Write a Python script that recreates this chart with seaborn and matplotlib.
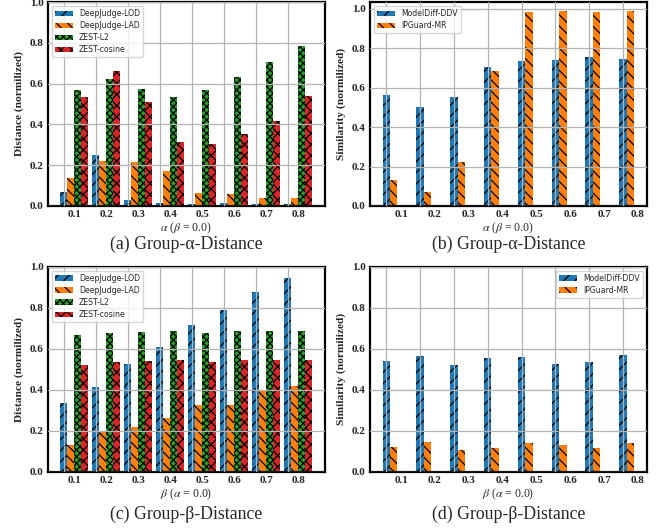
import numpy as np
import pandas as pd
import matplotlib
matplotlib.use("Agg")
import matplotlib.pyplot as plt
from matplotlib.ticker import FormatStrFormatter
import seaborn as sns

# ---------------- data ----------------
params = ["0.1", "0.2", "0.3", "0.4", "0.5", "0.6", "0.7", "0.8"]

dist_names = ["DeepJudge-LOD", "DeepJudge-LAD", "ZEST-L2", "ZEST-cosine"]
sim_names = ["ModelDiff-DDV", "IPGuard-MR"]

# (a) Group-alpha distance
a_lod = [0.068, 0.252, 0.028, 0.013, 0.008, 0.013, 0.008, 0.008]
a_lad = [0.135, 0.223, 0.218, 0.174, 0.063, 0.057, 0.037, 0.037]
a_l2 = [0.569, 0.623, 0.574, 0.535, 0.569, 0.633, 0.706, 0.784]
a_cos = [0.535, 0.662, 0.511, 0.315, 0.306, 0.354, 0.418, 0.540]

# (b) Group-alpha similarity
b_ddv = [0.564, 0.503, 0.554, 0.705, 0.735, 0.740, 0.755, 0.745]
b_mr = [0.131, 0.070, 0.221, 0.685, 0.982, 0.987, 0.982, 0.987]

# (c) Group-beta distance
c_lod = [0.337, 0.413, 0.525, 0.609, 0.715, 0.789, 0.877, 0.945]
c_lad = [0.131, 0.196, 0.219, 0.263, 0.326, 0.326, 0.394, 0.418]
c_l2 = [0.666, 0.676, 0.681, 0.686, 0.676, 0.686, 0.686, 0.686]
c_cos = [0.520, 0.535, 0.540, 0.545, 0.535, 0.545, 0.545, 0.545]

# (d) Group-beta similarity
d_ddv = [0.540, 0.564, 0.520, 0.554, 0.559, 0.525, 0.535, 0.569]
d_mr = [0.122, 0.146, 0.107, 0.117, 0.141, 0.131, 0.117, 0.141]

dist_colors = ["#1f77b4", "#ff7f0e", "#2ca02c", "#d62728"]
dist_hatches = ["///", "\\\\\\", "xxxxx", "xxx"]
sim_colors = ["#1f77b4", "#ff7f0e"]
sim_hatches = ["///", "\\\\\\"]

# ---------------- style ----------------
sns.set_style("whitegrid", {"axes.edgecolor": "black", "grid.color": "0.7"})
plt.rcParams["font.family"] = ["Liberation Serif", "DejaVu Serif"]
plt.rcParams["mathtext.fontset"] = "stix"
plt.rcParams["hatch.linewidth"] = 0.9

W = 0.22
FW, FH = 667, 529

fig = plt.figure(figsize=(FW / 100, FH / 100), dpi=100)


def rect(left, right, top, bottom):
    return [left / FW, 1 - bottom / FH, (right - left) / FW, (bottom - top) / FH]


panels = [
    dict(rect=rect(47.7, 325, 2, 206), names=dist_names,
         vals=[a_lod, a_lad, a_l2, a_cos], colors=dist_colors, hatches=dist_hatches,
         ylabel="Distance (normilized)", xlabel=r"$\alpha$ ($\beta$ = 0.0)",
         caption="(a) Group-α-Distance", ytop=1.0, loc="upper left", lab_off=1.5,
         cap_y=244),
    dict(rect=rect(370, 646.7, 2, 206), names=sim_names,
         vals=[b_ddv, b_mr], colors=sim_colors, hatches=sim_hatches,
         ylabel="Similarity (normilized)", xlabel=r"$\alpha$ ($\beta$ = 0.0)",
         caption="(b) Group-α-Distance", ytop=1.034, loc="upper left", lab_off=2.0,
         cap_y=244),
    dict(rect=rect(47.7, 325, 266.7, 471.7), names=dist_names,
         vals=[c_lod, c_lad, c_l2, c_cos], colors=dist_colors, hatches=dist_hatches,
         ylabel="Distance (normilized)", xlabel=r"$\beta$ ($\alpha$ = 0.0)",
         caption="(c) Group-β-Distance", ytop=1.0, loc="upper left", lab_off=1.5,
         cap_y=514),
    dict(rect=rect(370, 646.7, 266.7, 471.7), names=sim_names,
         vals=[d_ddv, d_mr], colors=sim_colors, hatches=sim_hatches,
         ylabel="Similarity (normilized)", xlabel=r"$\beta$ ($\alpha$ = 0.0)",
         caption="(d) Group-β-Distance", ytop=1.0, loc="upper right", lab_off=2.0,
         cap_y=514),
]

for p in panels:
    ax = fig.add_axes(p["rect"])
    names = p["names"]
    k = len(names)
    df = pd.DataFrame({
        "param": params * k,
        "method": np.repeat(names, len(params)),
        "value": np.concatenate([np.asarray(v, dtype=float) for v in p["vals"]]),
    })
    sns.barplot(data=df, x="param", y="value", hue="method", order=params,
                hue_order=names, palette=p["colors"], saturation=1,
                width=W * k, gap=0, errorbar=None, edgecolor="black",
                linewidth=0, legend=False, ax=ax)
    for cont, h in zip(ax.containers, p["hatches"]):
        for bar in cont:
            bar.set_hatch(h)

    ax.autoscale(enable=True, axis="x")
    ax.margins(x=0.05)
    ax.set_ylim(0, p["ytop"])

    x = np.arange(len(params))
    first = x - (k - 1) / 2 * W
    ax.set_xticks(first, minor=True)
    ax.set_xticks(first + p["lab_off"] * W, labels=params)
    ax.set_yticks([0.0, 0.2, 0.4, 0.6, 0.8, 1.0])
    ax.yaxis.set_major_formatter(FormatStrFormatter("%.1f"))

    ax.set_axisbelow(False)
    ax.xaxis.grid(False, which="major")
    ax.xaxis.grid(True, which="minor", color="0.7", lw=0.9)
    ax.yaxis.grid(True, which="major", color="0.7", lw=0.9)

    ax.tick_params(axis="both", which="both", length=0, labelsize=8, pad=3)
    for lbl in ax.get_xticklabels() + ax.get_yticklabels():
        lbl.set_fontweight("bold")

    for s in ax.spines.values():
        s.set_color("black")
        s.set_linewidth(1.6)

    ax.set_ylabel(p["ylabel"], fontsize=8.2, fontweight="bold", labelpad=4)
    ax.set_xlabel(p["xlabel"], fontsize=8.5, labelpad=1)

    ax.legend(handles=ax.containers, labels=names, loc=p["loc"],
              prop={"family": "DejaVu Sans", "size": 5.6}, handlelength=2.3,
              labelspacing=0.4, frameon=True, fancybox=True, framealpha=0.8,
              edgecolor="0.8", borderaxespad=0.5)

    pos = ax.get_position()
    fig.text((pos.x0 + pos.x1) / 2, 1 - p["cap_y"] / FH, p["caption"],
             ha="center", va="center", fontsize=12.8, family="Liberation Serif")

fig.savefig("out.png", dpi=100)
